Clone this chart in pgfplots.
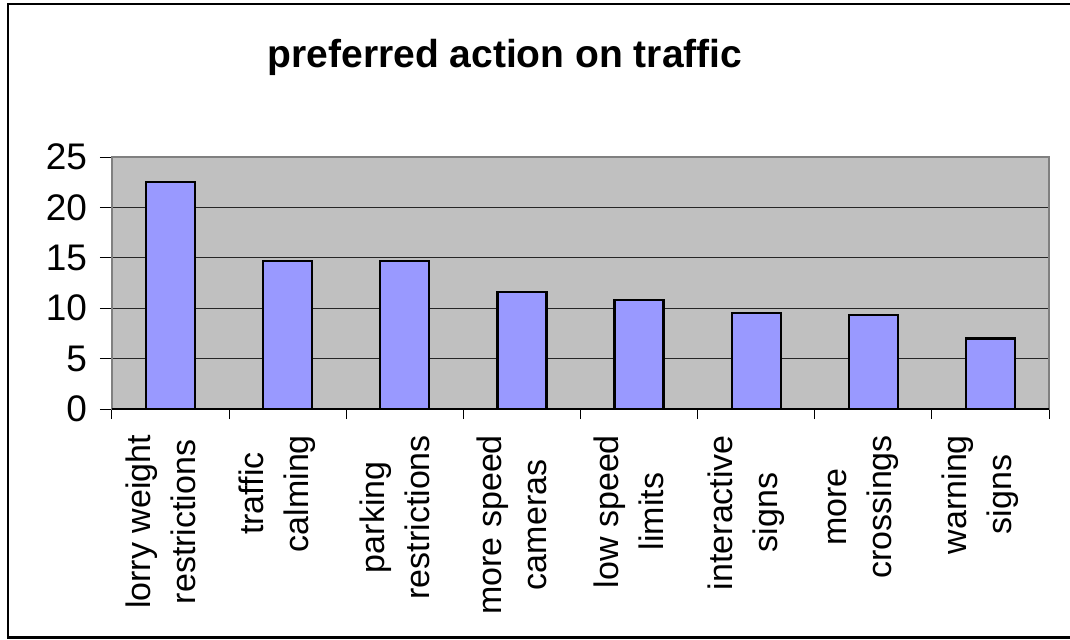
\documentclass[border=0pt]{standalone}
\usepackage{fontspec}
\setmainfont{Liberation Sans}
\usepackage{pgfplots}
\pgfplotsset{compat=1.18}
\definecolor{barfill}{HTML}{9999FF}
\definecolor{plotbg}{HTML}{C0C0C0}

\begin{document}
\begin{tikzpicture}[x=1pt,y=1pt]
    % page = 1070x639 px at 0.5pt per px, axis origin at plot's lower left
    \useasboundingbox (-56,-115) rectangle (479,204.5);
    \begin{scope}
        \clip (-56,-115) rectangle (479,204.5);
        \draw[line width=1.1pt] (-52,-114.2) rectangle (485,202.5);
    \end{scope}
    \node[font=\fontsize{19.5}{23}\selectfont\bfseries, anchor=base] at (196.5,171) {preferred action on traffic};
    \begin{axis}[
        at={(0,0)}, anchor=south west,
        scale only axis,
        width=468.5pt, height=126pt,
        xmin=-0.5, xmax=7.5,
        ymin=0, ymax=25,
        ytick={0,5,...,25},
        xtick={0,...,7},
        xticklabels={{lorry weight\\restrictions},{traffic\\calming},{parking\\restrictions},{more speed\\cameras},{low speed\\limits},{interactive\\signs},{more\\crossings},{warning\\signs}},
        minor xtick={-0.5,0.5,...,7.5},
        major x tick style={draw=none},
        xtick pos=lower, ytick pos=left,
        tick align=outside,
        major tick length=6pt,
        minor tick length=5pt,
        tick style={black, line width=0.5pt},
        ymajorgrids,
        major grid style={black!85, line width=0.6pt},
        axis line style={draw=gray, line width=1pt},
        axis background/.style={fill=plotbg},
        /pgf/number format/assume math mode=true,
        yticklabel style={font=\fontsize{18.5}{21}\selectfont, xshift=-3pt},
        % shifts act in the rotated frame: xshift moves down, yshift moves left
        xticklabel style={font=\fontsize{17}{22.5}\selectfont, rotate=90, anchor=east, align=center, xshift=-3.5pt, yshift=5pt},
    ]
        \addplot[ybar, bar width=24.5pt, fill=barfill, draw=black, line width=1.1pt]
            coordinates {(0,22.5) (1,14.7) (2,14.7) (3,11.6) (4,10.8) (5,9.5) (6,9.3) (7,7.0)};
        \draw[black, line width=0.8pt] (axis cs:-0.5,0) -- (axis cs:7.5,0);
    \end{axis}
\end{tikzpicture}
\end{document}
